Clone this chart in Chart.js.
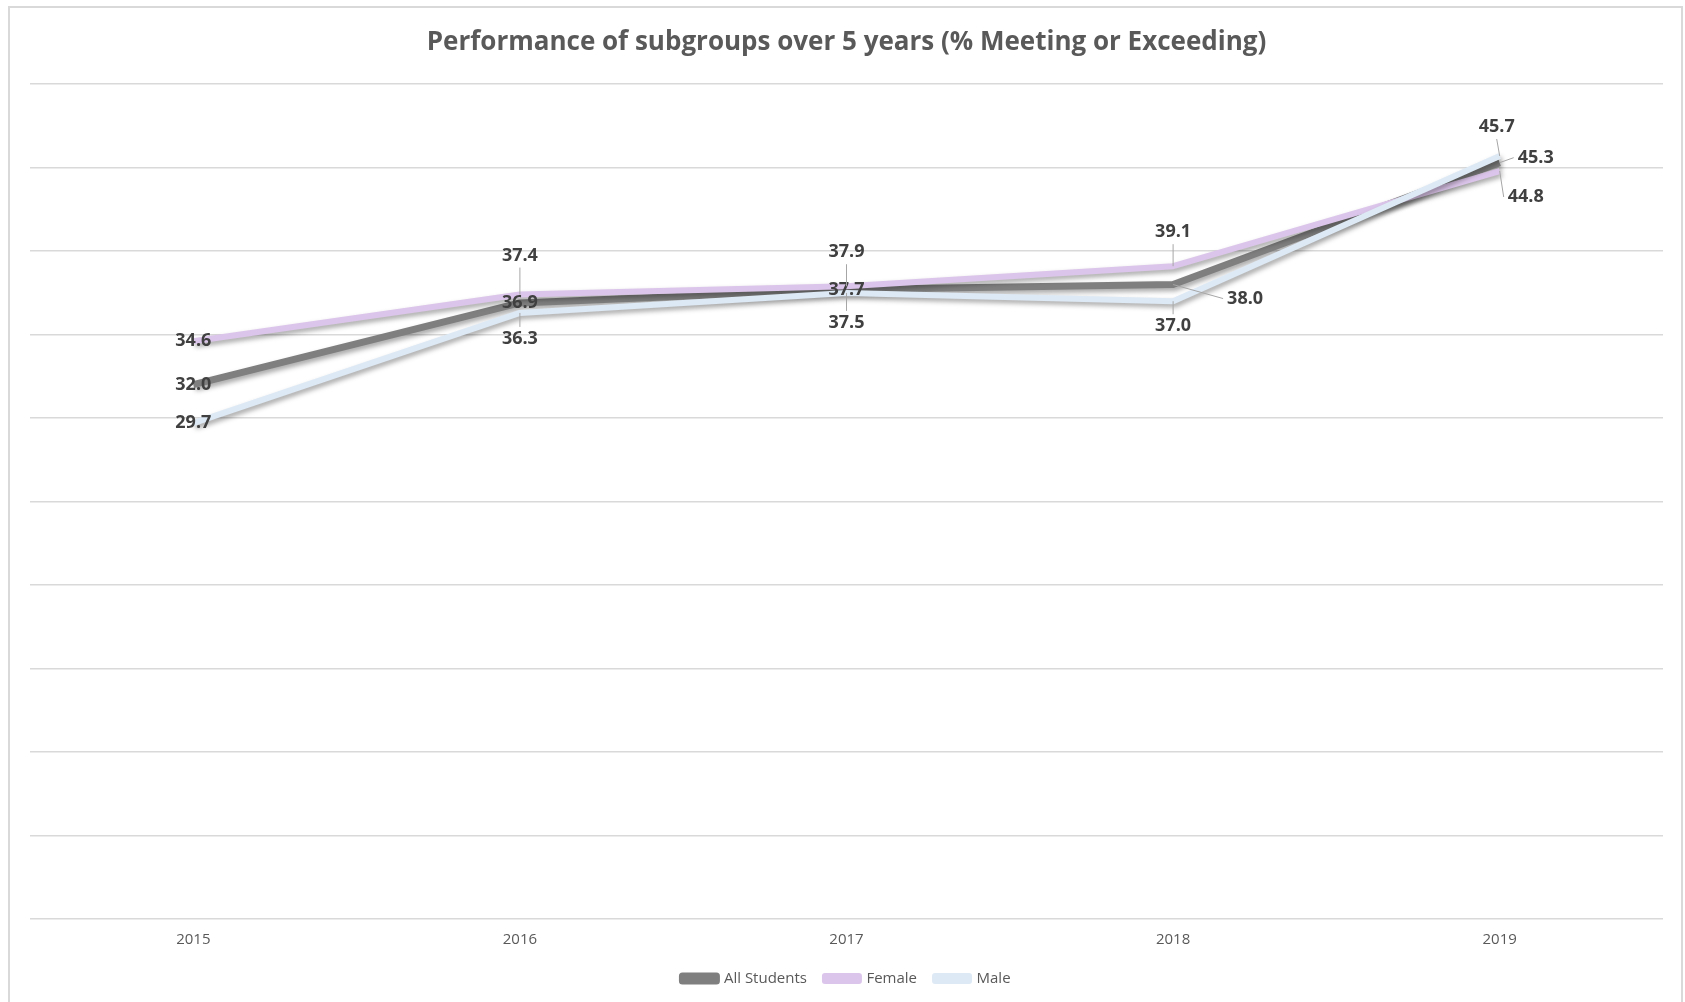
<!DOCTYPE html>
<html>
<head>
<meta charset="utf-8">
<script src="https://cdn.jsdelivr.net/npm/chart.js@4/dist/chart.umd.min.js"></script>
<style>
  html, body { margin: 0; padding: 0; background: #fff; }
  #wrap { position: absolute; left: 0; top: 0; width: 1685px; height: 1002px; }
  #frame { position: absolute; left: 8px; top: 6px; width: 1675px; height: 1010px;
           border: 2px solid #d9d9d9; box-sizing: border-box; pointer-events: none; }
</style>
</head>
<body>
<div id="wrap"><canvas id="chart"></canvas></div>
<div id="frame"></div>
<script>
// 年份 (x 軸)
const years = ['2015', '2016', '2017', '2018', '2019'];
// 各組百分比
const allStudents = [32.0, 36.9, 37.7, 38.0, 45.3];
const female = [34.6, 37.4, 37.9, 39.1, 44.8];
const male = [29.7, 36.3, 37.5, 37.0, 45.7];
// y 軸範圍
const yMin = 0;
const yMax = 50;
const yStep = 5;

// 資料標籤偏移 (像素), 依資料集與年份
const labelOffsets = [
  [[0, 0], [0, 0], [0, 0], [72, 14], [36, -5]],      // All Students
  [[0, 0], [0, -39], [0, -34], [0, -34], [26, 26]],  // Female
  [[0, 0], [0, 26], [0, 30], [0, 25], [-3, -29]]     // Male
];

// 線條陰影
const shadowPlugin = {
  id: 'lineShadow',
  beforeDatasetDraw(chart) {
    const c = chart.ctx;
    c.save();
    c.shadowColor = 'rgba(0,0,0,0.35)';
    c.shadowBlur = 5;
    c.shadowOffsetX = 2;
    c.shadowOffsetY = 3;
  },
  afterDatasetDraw(chart) {
    chart.ctx.restore();
  }
};

// 資料標籤 + 引導線
const labelPlugin = {
  id: 'valueLabels',
  afterDatasetsDraw(chart) {
    const c = chart.ctx;
    c.save();
    c.font = 'bold 18px "Open Sans", sans-serif';
    c.fillStyle = '#404040';
    c.textAlign = 'center';
    c.textBaseline = 'middle';
    chart.data.datasets.forEach((ds, di) => {
      const meta = chart.getDatasetMeta(di);
      meta.data.forEach((pt, i) => {
        const [dx, dy] = labelOffsets[di][i];
        const txt = ds.data[i].toFixed(1);
        const lx = pt.x + dx, ly = pt.y + dy;
        const w = c.measureText(txt).width;
        // 引導線
        if (dx !== 0 || dy !== 0) {
          c.strokeStyle = '#a6a6a6';
          c.lineWidth = 1;
          c.beginPath();
          if (Math.abs(dx) > 20) {
            c.moveTo(pt.x, pt.y);
            c.lineTo(lx - w / 2 - 4, ly);
          } else if (dy < 0) {
            c.moveTo(pt.x, pt.y);
            c.lineTo(lx, ly + 12);
          } else {
            c.moveTo(pt.x, pt.y);
            c.lineTo(lx, ly - 12);
          }
          c.stroke();
        }
        c.fillText(txt, lx, ly);
      });
    });
    c.restore();
  }
};

const config = {
  type: 'line',
  data: {
    labels: years,
    datasets: [
      { label: 'All Students', data: allStudents, borderColor: '#7f7f7f', backgroundColor: '#7f7f7f', borderWidth: 7, order: 3 },
      { label: 'Female', data: female, borderColor: '#dcc5ea', backgroundColor: '#dcc5ea', borderWidth: 6, order: 2 },
      { label: 'Male', data: male, borderColor: '#dde9f5', backgroundColor: '#dde9f5', borderWidth: 6, order: 1 }
    ]
  },
  options: {
    responsive: false,
    animation: false,
    layout: { padding: { left: 30, right: 22, top: 0, bottom: 6 } },
    elements: {
      point: { radius: 0, hoverRadius: 0 },
      line: { tension: 0, borderJoinStyle: 'round', borderCapStyle: 'butt' }
    },
    plugins: {
      title: {
        display: true,
        text: 'Performance of subgroups over 5 years (% Meeting or Exceeding)',
        color: '#595959',
        font: { family: '"Open Sans", sans-serif', size: 26, weight: 'bold' },
        padding: { top: 27, bottom: 26 }
      },
      legend: {
        position: 'bottom',
        labels: {
          color: '#595959',
          font: { family: '"Open Sans", sans-serif', size: 15 },
          boxWidth: 34,
          boxHeight: 5,
          padding: 18,
          sort: (a, b) => a.datasetIndex - b.datasetIndex
        }
      },
      tooltip: { enabled: false }
    },
    scales: {
      x: {
        offset: true,
        grid: { display: false },
        border: { display: false },
        ticks: { color: '#595959', font: { family: '"Open Sans", sans-serif', size: 15 }, padding: 4 }
      },
      y: {
        min: yMin,
        max: yMax,
        ticks: { display: false, stepSize: yStep },
        border: { display: false },
        grid: { color: '#d9d9d9', lineWidth: 1.5, drawTicks: false }
      }
    }
  },
  plugins: [shadowPlugin, labelPlugin]
};

const cv = document.getElementById('chart');
cv.width = 1685;
cv.height = 1002;
new Chart(cv, config);
</script>
</body>
</html>
